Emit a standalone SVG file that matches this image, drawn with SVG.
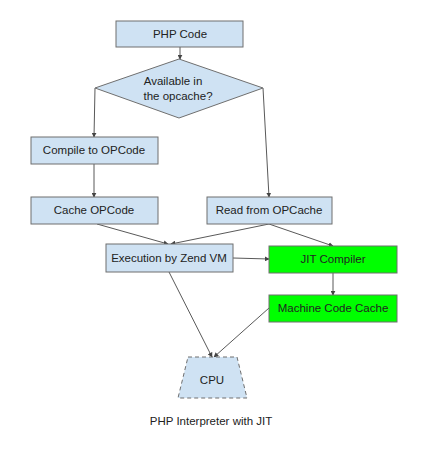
<svg xmlns="http://www.w3.org/2000/svg" width="427" height="451" viewBox="0 0 427 451">
<style>
.b{fill:#cfe2f3;stroke:#6f6f6f;stroke-width:1}
.g{fill:#00ff00;stroke:#6f6f6f;stroke-width:1}
.t{font-family:"Liberation Sans",Arial,sans-serif;font-size:11.5px;fill:#222;text-anchor:middle}
.c{fill:none;stroke:#595959;stroke-width:1;marker-end:url(#a)}
</style>
<defs>
<marker id="a" viewBox="0 0 8 8" refX="7" refY="4" markerWidth="5" markerHeight="5" orient="auto" markerUnits="userSpaceOnUse">
<path d="M0,0 L8,4 L0,8 z" fill="#444"/>
</marker>
</defs>
<rect width="427" height="451" fill="#fff"/>
<g id="connectors">
<line class="c" x1="180" y1="47" x2="180" y2="59"/>
<line class="c" x1="95" y1="88" x2="94" y2="137"/>
<line class="c" x1="263" y1="88" x2="269" y2="197"/>
<line class="c" x1="94" y1="164" x2="94" y2="197"/>
<line class="c" x1="97" y1="224" x2="168" y2="244"/>
<line class="c" x1="269" y1="224" x2="171" y2="244"/>
<line class="c" x1="269" y1="224" x2="333" y2="246"/>
<line class="c" x1="233" y1="258" x2="269" y2="259"/>
<line class="c" x1="333" y1="273" x2="333" y2="295"/>
<line class="c" x1="169" y1="272" x2="212" y2="357"/>
<line class="c" x1="269" y1="308" x2="214" y2="357"/>
</g>
<g id="php"><rect class="b" x="116" y="21" width="127" height="26"/><text class="t" x="180" y="38">PHP Code</text></g>
<g id="avail"><polygon class="b" points="179,59 263,88 179,118 95,88"/><text class="t" x="173" y="85">Available in</text><text class="t" x="178" y="100">the opcache?</text></g>
<g id="compile"><rect class="b" x="31" y="137" width="127" height="27"/><text class="t" x="94" y="154">Compile to OPCode</text></g>
<g id="cache"><rect class="b" x="31" y="197" width="127" height="27"/><text class="t" x="94" y="214">Cache OPCode</text></g>
<g id="read"><rect class="b" x="207" y="197" width="125" height="27"/><text class="t" x="269" y="214">Read from OPCache</text></g>
<g id="exec"><rect class="b" x="106" y="244" width="127" height="28"/><text class="t" x="169" y="262">Execution by Zend VM</text></g>
<g id="jit"><rect class="g" x="269" y="246" width="128" height="27"/><text class="t" x="333" y="263">JIT Compiler</text></g>
<g id="mcc"><rect class="g" x="269" y="295" width="128" height="27"/><text class="t" x="333" y="312">Machine Code Cache</text></g>
<g id="cpu"><polygon class="b" points="188,357 237,357 247,398 178,398" stroke-dasharray="4,3"/><text class="t" x="212" y="384">CPU</text></g>
<text class="t" x="211" y="425">PHP Interpreter with JIT</text>
</svg>
